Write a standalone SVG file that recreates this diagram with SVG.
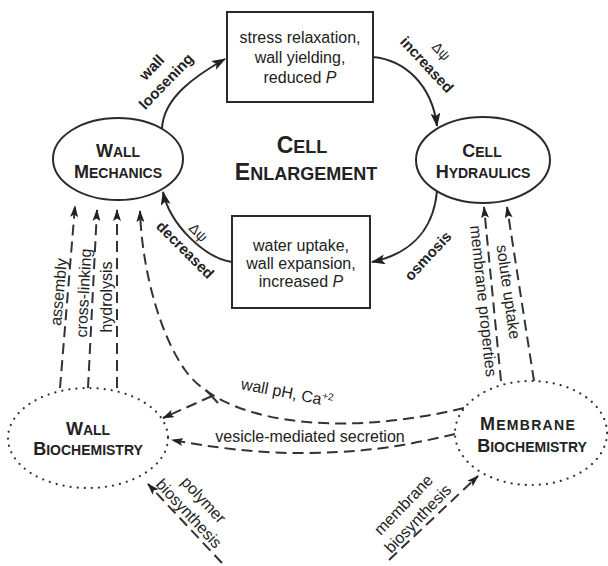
<svg xmlns="http://www.w3.org/2000/svg" width="608" height="566" viewBox="0 0 608 566">
<style>
text{font-family:"Liberation Sans",Arial,sans-serif;fill:#222}
.t{font-size:16px}
.b{font-weight:bold;font-size:15px}
.n{font-weight:bold;font-size:14px}
.nb{font-size:18px}
.tt{font-weight:bold;font-size:18px}
.tb{font-size:23px}
.dp{font-size:14px}
.shape{fill:#fff;stroke:#2b2b2b;stroke-width:2}
.dot{fill:#fff;stroke:#333;stroke-width:2.2;stroke-dasharray:0.1 7;stroke-linecap:round}
.sol{fill:none;stroke:#2b2b2b;stroke-width:2;marker-end:url(#ah)}
.dash{fill:none;stroke:#333;stroke-width:2;stroke-dasharray:11 6;marker-end:url(#ad)}
.bar{fill:none;stroke:#333;stroke-width:2}
</style>
<defs>
<marker id="ah" viewBox="0 0 14 10" refX="13" refY="5" markerWidth="14" markerHeight="10" markerUnits="userSpaceOnUse" orient="auto"><path d="M0,0 L14,5 L0,10 L3,5 z" fill="#222"/></marker>
<marker id="ad" viewBox="0 0 12 8" refX="11" refY="4" markerWidth="12" markerHeight="8" markerUnits="userSpaceOnUse" orient="auto"><path d="M0,0 L12,4 L0,8 L2.5,4 z" fill="#222"/></marker>
</defs>
<rect width="608" height="566" fill="#fff"/>

<g id="connectors">
<path class="sol" d="M162,129 C163,98 195,76 225,59"/>
<path class="sol" d="M373,57 C405,60 432,85 437,126"/>
<path class="sol" d="M437,191 C433,235 405,255 372,262"/>
<path class="sol" d="M232,262 C205,258 170,225 163,192"/>
<path class="dash" d="M60,388 L75,206"/>
<path class="dash" d="M88,388 L97,210"/>
<path class="dash" d="M117,388 L117,210"/>
<path class="dash" d="M464,408 C330,440 220,420 185,370 C160,335 142,270 140,211"/>
<path class="dash" d="M212,396 L163,418"/>
<path class="bar" d="M206,390 L218,403"/>
<path class="dash" d="M455,434 C420,442 380,452 310,453 C260,454 210,447 172,440"/>
<path class="dash" d="M501,381 L484,207"/>
<path class="dash" d="M534,381 L507,207"/>
<path class="dash" d="M222,563 L148,484"/>
<path class="dash" d="M389,560 L478,476"/>
</g>

<g id="labels">
<g transform="translate(159,74.5) rotate(-46)"><text class="b" text-anchor="middle" y="-5">wall</text><text class="b" text-anchor="middle" y="15">loosening</text></g>
<g transform="translate(434,58) rotate(47)"><text class="dp" text-anchor="middle" y="-5">Δψ</text><text class="b" text-anchor="middle" y="15">increased</text></g>
<g transform="translate(190,238) rotate(45)"><text class="dp" text-anchor="middle" x="2" y="-5">Δψ</text><text class="b" text-anchor="middle" x="5" y="17">decreased</text></g>
<text class="b" text-anchor="middle" transform="translate(428,256) rotate(-47)" y="5">osmosis</text>
<text class="t" text-anchor="middle" transform="translate(59,292) rotate(-85)" y="5">assembly</text>
<text class="t" text-anchor="middle" transform="translate(84,293) rotate(-87)" y="5">cross-linking</text>
<text class="t" text-anchor="middle" transform="translate(107,297) rotate(-90)" y="5">hydrolysis</text>
<text class="t" text-anchor="middle" transform="translate(483,301) rotate(84)" y="5">membrane properties</text>
<text class="t" text-anchor="middle" transform="translate(508,292) rotate(82)" y="5">solute uptake</text>
<text class="t" text-anchor="middle" transform="translate(287,393) rotate(11)" y="5">wall pH, Ca<tspan font-size="10" dy="-6">+2</tspan></text>
<text class="t" text-anchor="middle" x="310" y="442">vesicle-mediated secretion</text>
<g transform="translate(196,507) rotate(47)"><text class="t" text-anchor="middle" y="-5">polymer</text><text class="t" text-anchor="middle" y="15">biosynthesis</text></g>
<g transform="translate(411,512) rotate(-46)"><text class="t" text-anchor="middle" y="-5">membrane</text><text class="t" text-anchor="middle" y="15">biosynthesis</text></g>
</g>

<g id="title">
<text class="tt" x="302" y="153" text-anchor="middle"><tspan class="tb">C</tspan>ELL</text>
<text class="tt" x="306" y="180" text-anchor="middle"><tspan class="tb">E</tspan>NLARGEMENT</text>
</g>

<g id="wall-mechanics">
<ellipse class="shape" cx="118" cy="159" rx="65" ry="41"/>
<text class="n" x="118" y="157" text-anchor="middle"><tspan class="nb">W</tspan>ALL</text>
<text class="n" x="118" y="178" text-anchor="middle"><tspan class="nb">M</tspan>ECHANICS</text>
</g>

<g id="cell-hydraulics">
<ellipse class="shape" cx="483" cy="160" rx="67" ry="43"/>
<text class="n" x="482" y="157" text-anchor="middle"><tspan class="nb">C</tspan>ELL</text>
<text class="n" x="483" y="178" text-anchor="middle"><tspan class="nb">H</tspan>YDRAULICS</text>
</g>

<g id="stress-box">
<rect class="shape" x="227" y="12" width="146" height="90"/>
<text class="t" x="300" y="43" text-anchor="middle">stress relaxation,</text>
<text class="t" x="300" y="63" text-anchor="middle">wall yielding,</text>
<text class="t" x="300" y="83" text-anchor="middle">reduced <tspan font-style="italic">P</tspan></text>
</g>

<g id="water-box">
<rect class="shape" x="232" y="216" width="138" height="92"/>
<text class="t" x="301" y="251" text-anchor="middle">water uptake,</text>
<text class="t" x="301" y="269" text-anchor="middle">wall expansion,</text>
<text class="t" x="301" y="287" text-anchor="middle">increased <tspan font-style="italic">P</tspan></text>
</g>

<g id="wall-biochemistry">
<ellipse class="dot" cx="88" cy="438" rx="80" ry="50"/>
<text class="n" x="88" y="435" text-anchor="middle"><tspan class="nb">W</tspan>ALL</text>
<text class="n" x="88" y="455" text-anchor="middle"><tspan class="nb">B</tspan>IOCHEMISTRY</text>
</g>

<g id="membrane-biochemistry">
<ellipse class="dot" cx="531" cy="433" rx="76" ry="52"/>
<text class="n" x="528" y="430" text-anchor="middle" letter-spacing="1.3"><tspan class="nb">M</tspan>EMBRANE</text>
<text class="n" x="532" y="452" text-anchor="middle"><tspan class="nb">B</tspan>IOCHEMISTRY</text>
</g>
</svg>
